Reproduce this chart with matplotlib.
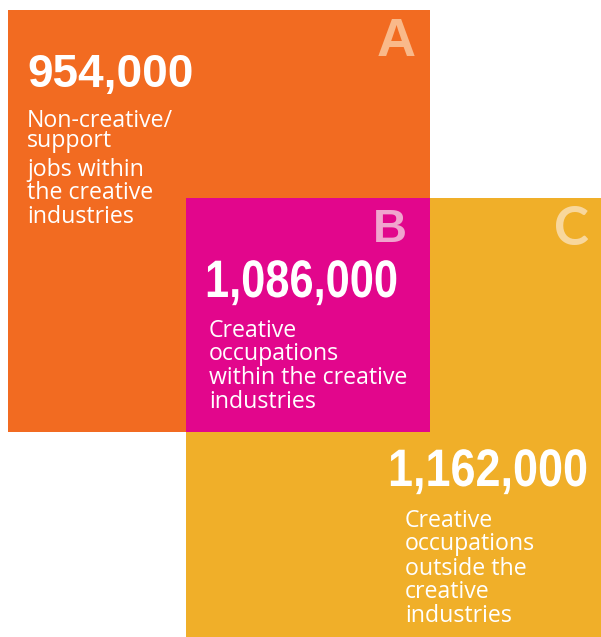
import matplotlib
matplotlib.use("Agg")
import matplotlib.pyplot as plt
from matplotlib.patches import Rectangle
from matplotlib.patheffects import AbstractPathEffect
from matplotlib.transforms import Affine2D

# Data
values = [954000, 1086000, 1162000]
letters = ["A", "B", "C"]
descriptions = [
    ["Non-creative/\nsupport", "jobs within", "the creative", "industries"],
    ["Creative", "occupations", "within the creative", "industries"],
    ["Creative", "occupations", "outside the", "creative", "industries"],
]

ORANGE = "#F26B21"
MAGENTA = "#E2068C"
YELLOW = "#F0AF29"
LETTER_COLORS = ["#F9B98A", "#F0A5CE", "#F8D79C"]


class VScale(AbstractPathEffect):
    """Stretch a text vertically about its baseline (display coords)."""

    def __init__(self, sy, y0):
        super().__init__()
        self.sy = sy
        self.y0 = y0

    def draw_path(self, renderer, gc, tpath, affine, rgbFace=None):
        t = affine + Affine2D().translate(0, -self.y0).scale(1, self.sy).translate(0, self.y0)
        renderer.draw_path(gc, tpath, t, rgbFace)


W, H = 601, 637
fig = plt.figure(figsize=(W / 100, H / 100), dpi=100)
ax = fig.add_axes([0, 0, 1, 1])
ax.set_xlim(0, W)
ax.set_ylim(H, 0)
ax.axis("off")

ax.add_patch(Rectangle((8, 10), 422, 422, color=ORANGE, lw=0))
ax.add_patch(Rectangle((186, 198), 415, 439, color=YELLOW, lw=0))
ax.add_patch(Rectangle((186, 198), 244, 234, color=MAGENTA, lw=0))

fig.canvas.draw()
renderer = fig.canvas.get_renderer()

# Big numbers: (x, baseline y, fontsize, target width in px)
num_specs = [
    (27, 87, 33, None),
    (205, 297, 38, 193),
    (388, 486, 38, 200),
]
for v, (x, y, fs, tw) in zip(values, num_specs):
    t = ax.text(x, y, f"{v:,}", color="white", fontsize=fs, fontweight="bold",
                family="Liberation Sans", ha="left", va="baseline")
    if tw is not None:
        bb = t.get_window_extent(renderer)
        sx = tw / bb.width
        t.set_fontsize(fs * sx)
        y0 = ax.transData.transform((x, y))[1]
        t.set_path_effects([VScale(1.0 / sx, y0)])

# Letters
letter_specs = [
    (416, 56, 39, "Liberation Sans"),
    (407, 242, 34, "Liberation Sans"),
    (589, 245, 38, "Lato"),
]
for L, c, (x, y, fs, fam) in zip(letters, LETTER_COLORS, letter_specs):
    ax.text(x, y, L, color=c, fontsize=fs, fontweight="bold", family=fam,
            ha="right", va="baseline")

# Descriptions (baseline of the last line of each text)
desc_specs = [
    (27, [147, 176, 199, 223]),
    (209, [337, 360, 384, 408]),
    (405, [527, 550, 575, 598, 622]),
]
for lines, (x, ys) in zip(descriptions, desc_specs):
    for line, y in zip(lines, ys):
        ax.text(x, y, line, color="white", fontsize=16.7, fontweight="normal",
                family="Open Sans", ha="left", va="baseline", linespacing=0.8)

fig.savefig("out.png", dpi=100)
